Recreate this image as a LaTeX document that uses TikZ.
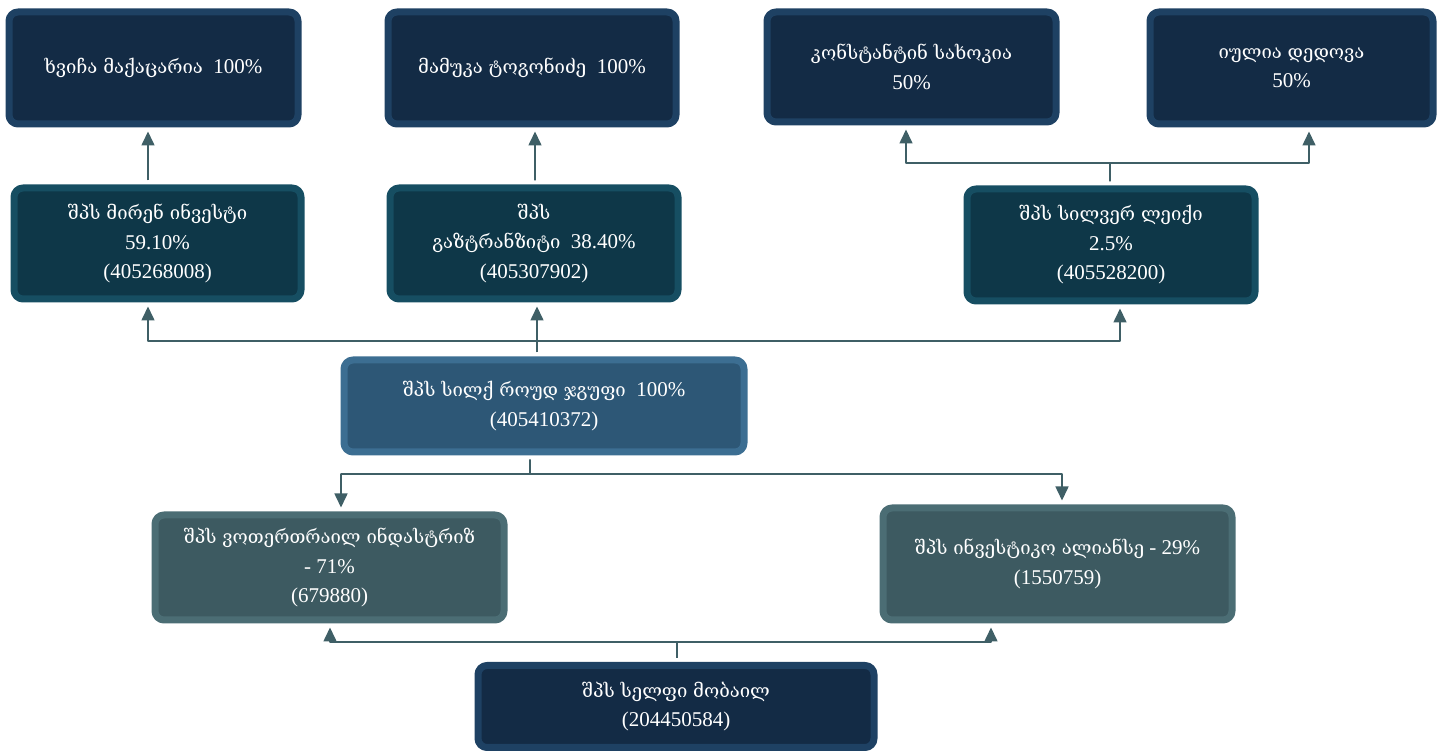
\documentclass[tikz,border=0pt]{standalone}
\usepackage{fontspec}
\setmainfont{Liberation Serif}
\newfontfamily\geo[Scale=0.88]{DejaVu Serif}
\usetikzlibrary{arrows.meta}
\definecolor{navyfill}{HTML}{132B45}
\definecolor{navyedge}{HTML}{1E4163}
\definecolor{navyrim}{HTML}{46698E}
\definecolor{tealfill}{HTML}{0E3748}
\definecolor{tealedge}{HTML}{164E62}
\definecolor{tealrim}{HTML}{3E7488}
\definecolor{bluefill}{HTML}{2D5776}
\definecolor{blueedge}{HTML}{3C6E92}
\definecolor{bluerim}{HTML}{6790B0}
\definecolor{slatefill}{HTML}{3D5A61}
\definecolor{slateedge}{HTML}{4B6D74}
\definecolor{slaterim}{HTML}{789A9F}
\definecolor{linkgray}{HTML}{3F5F66}
\tikzset{
  card/.style={rectangle, rounded corners=9bp, line width=7bp, align=center,
    text=white, inner sep=0pt, font=\fontsize{21bp}{29.5bp}\selectfont},
  rim/.style={append after command={\pgfextra{\draw[#1, line width=1bp, rounded corners=6bp]
    ([shift={(4.5bp,4.5bp)}]\tikzlastnode.south west) rectangle
    ([shift={(-4.5bp,-4.5bp)}]\tikzlastnode.north east);}}},
  navybox/.style={card, fill=navyfill, draw=navyedge, rim=navyrim},
  tealbox/.style={card, fill=tealfill, draw=tealedge, rim=tealrim},
  bluebox/.style={card, fill=bluefill, draw=blueedge, rim=bluerim},
  slatebox/.style={card, fill=slatefill, draw=slateedge, rim=slaterim},
  link/.style={draw=linkgray, line width=1.6bp, shorten >=4bp},
}
\begin{document}
\begin{tikzpicture}[>={Triangle[length=14bp,width=13bp]},line join=bevel,]
\useasboundingbox (0bp,0bp) rectangle (1450bp,751bp);
%%
\node (node_0) at (153.5bp,683bp) [navybox,minimum width=289bp,minimum height=112bp] {{\geo ხვიჩა მაქაცარია}~ 100\%};
  \node (node_1) at (532bp,683bp) [navybox,minimum width=288bp,minimum height=112bp] {{\geo მამუკა ტოგონიძე}~ 100\%};
  \node (node_2) at (911.5bp,684bp) [navybox,minimum width=289bp,minimum height=110bp] {{\geo კონსტანტინ სახოკია}\\50\%};
  \node (node_3) at (1291.5bp,683bp) [navybox,minimum width=283bp,minimum height=112bp] {{\geo იულია დედოვა}\\50\%};
  \node (node_4) at (157.5bp,507.5bp) [tealbox,minimum width=287bp,minimum height=111bp] {{\geo შპს მირენ ინვესტი}\\59.10\%\\(405268008)};
  \node (node_5) at (534bp,507.5bp) [tealbox,minimum width=288bp,minimum height=111bp] {{\geo შპს}\\{\geo გაზტრანზიტი}~ 38.40\%\\(405307902)};
  \node (node_6) at (1111bp,506bp) [tealbox,minimum width=288bp,minimum height=112bp] {{\geo შპს სილვერ ლეიქი}\\2.5\%\\(405528200)};
  \node (node_7) at (544bp,345bp) [bluebox,minimum width=400bp,minimum height=92bp] {{\geo შპს სილქ როუდ ჯგუფი}~ 100\%\\(405410372)};
  \node (node_8) at (329.5bp,183.5bp) [slatebox,minimum width=349bp,minimum height=105bp] {{\geo შპს ვოთერთრაილ ინდასტრიზ}\\- 71\%\\(679880)};
  \node (node_9) at (1057.5bp,187bp) [slatebox,minimum width=349bp,minimum height=112bp] {{\geo შპს ინვესტიკო ალიანსე} - 29\%\\(1550759)};
  \node (node_10) at (676bp,44.5bp) [navybox,minimum width=396bp,minimum height=82bp] {{\geo შპს სელფი მობაილ}\\(204450584)};
%
  \coordinate (split_g) at (1110bp,588bp);
  \coordinate (split_h) at (537bp,410bp);
  \coordinate (split_b) at (530bp,277bp);
  \coordinate (split_k) at (677bp,109bp);
%
  \draw [link,->,shorten <=4bp] ([xshift=-9.5bp]node_4.north) -- ([xshift=-5.5bp]node_0.south);
  \draw [link,->,shorten <=4bp] ([xshift=1bp]node_5.north) -- ([xshift=3bp]node_1.south);
  \draw [link,->,shorten <=4bp] ([xshift=-1bp]node_6.north) -- (split_g) -| ([xshift=-5.5bp]node_2.south);
  \draw [link,->] (split_g) -| ([xshift=17.5bp]node_3.south);
  \draw [link,->,shorten <=4bp] ([xshift=-7bp]node_7.north) -- (split_h) -| ([xshift=-9.5bp]node_4.south);
  \draw [link,->] (split_h) -- ([xshift=3bp]node_5.south);
  \draw [link,->] (split_h) -| ([xshift=9bp]node_6.south);
  \draw [link,->,shorten <=4bp] ([xshift=-14bp]node_7.south) -- (split_b) -| ([xshift=11.5bp]node_8.north);
  \draw [link,->] (split_b) -| ([xshift=4.5bp]node_9.north);
  \draw [link,->,shorten <=4bp] ([xshift=1bp]node_10.north) -- (split_k) -| ([xshift=0.5bp]node_8.south);
  \draw [link,->] (split_k) -| ([xshift=-66.5bp]node_9.south);
%
\end{tikzpicture}
\end{document}
